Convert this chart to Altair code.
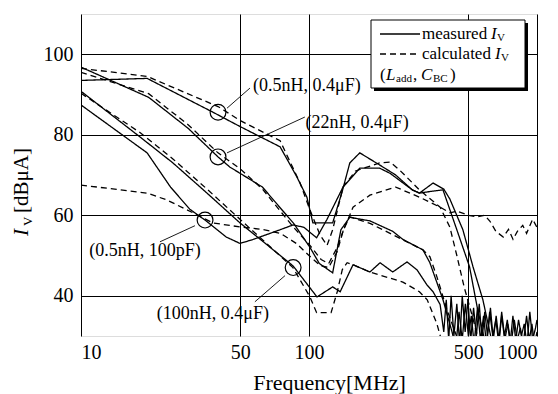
import altair as alt
import pandas as pd

FONT = "Liberation Serif, Times New Roman, DejaVu Serif, serif"

# ---- (0.5nH, 0.4uF) ----
a_meas_f = [10, 19.5, 37.9, 50, 74.7, 88.5, 97.9, 104, 115, 127, 140, 151, 167, 204, 240, 284, 305, 350, 390, 415, 473, 524, 579, 622, 650]
a_meas_db = [93.5, 94, 85.6, 82, 77, 69.5, 64.5, 58.1, 58.1, 58.1, 66, 73, 75.5, 72.5, 70, 66.3, 65.5, 68, 66.5, 64, 56.4, 47.2, 39, 30.8, 26]
a_calc_f = [10, 19.5, 39.9, 50, 74.7, 91.4, 101, 112, 120, 127, 141, 160, 204, 227, 250, 305, 376, 415, 445, 480, 520, 560]
a_calc_db = [96.5, 94.5, 87, 83.5, 78.5, 68, 61.3, 55, 52.5, 56.4, 67, 71, 73, 73.2, 71.2, 66.3, 62, 57, 50, 42, 35, 28]

# ---- (22nH, 0.4uF) ----
b_meas_f = [10, 19.8, 29.5, 39.9, 44.9, 62.5, 76.2, 85.6, 101, 111, 127, 138, 151, 185, 233, 258, 316, 339, 387, 425,
            440, 455, 470, 485, 500, 515, 530, 548, 565, 583, 600, 620, 640, 660, 680, 700, 722, 745, 770, 795, 820, 845, 870, 900, 925, 950, 975, 1000]
b_meas_db = [96.8, 89.3, 81.6, 74.5, 72, 67, 61.3, 58, 52, 48, 45.7, 56.4, 59.5, 58.6, 56, 54, 51.4, 48.2, 39, 30.8,
             27, 36, 29, 38, 30, 35, 28, 37, 29, 35, 28, 36, 30, 34, 28, 35, 29, 33, 28, 34, 29, 32, 28, 35, 29, 33, 28, 31]
b_calc_f = [10, 19.8, 29.5, 39.9, 50, 62.5, 76.2, 85.6, 101, 113, 122, 133, 143, 151, 185, 258, 316, 339, 364, 403, 445, 470]
b_calc_db = [95.5, 90.2, 82.5, 75.5, 71.5, 66.5, 60.5, 57, 52.5, 49, 48, 52, 57, 59.6, 58, 53.9, 51.4, 49.7, 44.7, 36.5, 29.8, 26]

# ---- (0.5nH, 100pF) ----
c_meas_f = [10, 19.5, 24.7, 30, 35, 43.3, 49.8, 56.3, 74.7, 85.2, 95, 108, 120, 141, 167, 204, 227, 284, 305, 350, 387, 445, 506, 546, 579, 610]
c_meas_db = [87.4, 75.5, 67, 61.5, 58.8, 54.6, 53, 53.9, 56.4, 57.6, 57, 54.4, 59, 67, 71.7, 71.7, 70.4, 66.3, 65.5, 66, 66.3, 56.4, 47.2, 37.3, 30.8, 26]
c_calc_f = [10, 19.5, 23.8, 31, 37.9, 49.8, 62, 75, 88, 100, 112, 122, 133, 141, 156, 185, 240, 305, 376, 415, 445, 500, 546, 590, 622, 660, 711, 750, 785, 820, 866, 900, 957, 1000]
c_calc_db = [67.5, 65.5, 63.8, 60.6, 58.1, 57.1, 56.5, 55.5, 53, 50, 47.5, 47, 51, 56, 62, 65, 67, 64.5, 62, 60.6, 61, 60, 59.6, 60, 58.5, 56, 54.6, 56.5, 54, 56, 57.5, 55.5, 59, 57]

# ---- (100nH, 0.4uF) ----
d_meas_f = [10, 18.2, 25.3, 35.7, 49.8, 85.2, 108.4, 127, 137, 156, 185, 205, 233, 269, 298, 329, 350, 376,
            390, 400, 410, 420, 432, 445, 458, 470, 484, 498, 512, 527, 542, 558, 574, 590, 607, 625, 643, 662, 681, 700, 720, 741, 762, 784, 807, 830, 854, 879, 904, 930, 957, 985, 1000]
d_meas_db = [90.8, 79.4, 73, 65.5, 58.1, 47.4, 39.7, 42.2, 41, 47.7, 45.9, 48.2, 45.9, 48.4, 46.4, 42.7, 41, 37.8,
             31, 39, 29, 40, 30, 38, 28, 40, 31, 39, 29, 37, 30, 38, 29, 36, 30, 37, 29, 35, 29, 36, 30, 34, 28, 35, 29, 34, 30, 33, 28, 36, 29, 32, 34]
d_calc_f = [10, 18.2, 25.3, 35.7, 49.8, 85, 101, 108, 125, 133, 140, 147, 156, 185, 258, 305, 330, 364, 385]
d_calc_db = [90.3, 80.5, 74, 66.5, 59, 47, 39.7, 35.8, 35.8, 41, 46.5, 48.2, 47.7, 45.9, 43.4, 41, 39, 33, 28]

# annotation labels
ann_text = ["(0.5nH, 0.4\u03bcF)", "(22nH, 0.4\u03bcF)", "(0.5nH, 100pF)", "(100nH, 0.4\u03bcF)"]
ann_circle_f = [39.9, 39.9, 35.0, 85.2]
ann_circle_db = [85.6, 74.5, 58.8, 47.0]

rows = []
for name, kind, fs, ds in [
    ("A", "measured", a_meas_f, a_meas_db), ("A", "calculated", a_calc_f, a_calc_db),
    ("B", "measured", b_meas_f, b_meas_db), ("B", "calculated", b_calc_f, b_calc_db),
    ("C", "measured", c_meas_f, c_meas_db), ("C", "calculated", c_calc_f, c_calc_db),
    ("D", "measured", d_meas_f, d_meas_db), ("D", "calculated", d_calc_f, d_calc_db),
]:
    for i, (f, d) in enumerate(zip(fs, ds)):
        rows.append({"curve": name + kind, "kind": kind, "f": f, "db": d, "i": i})
df = pd.DataFrame(rows)

xscale = alt.Scale(type="log", domain=[10, 1000], nice=False)
yscale = alt.Scale(domain=[30, 110], nice=False, zero=False)

xax = alt.Axis(values=[10, 50, 100, 500, 1000], format="d", grid=True, gridColor="black", gridWidth=1,
               gridOpacity=1, ticks=False, domain=False, labelFont=FONT, labelFontSize=20, labelColor="black",
               labelPadding=6, title="Frequency[MHz]", titleFont=FONT, titleFontSize=22, titleFontWeight="normal",
               titleColor="black", titleX=248, titleY=46, titleBaseline="middle")
yax = alt.Axis(values=[40, 60, 80, 100], grid=True, gridColor="black", gridWidth=1, gridOpacity=1, ticks=False,
               domain=False, labelFont=FONT, labelFontSize=20, labelColor="black", labelPadding=8, title=None)

lines = alt.Chart(df).mark_line(color="black", strokeWidth=1.3, clip=True).encode(
    x=alt.X("f:Q", scale=xscale, axis=xax),
    y=alt.Y("db:Q", scale=yscale, axis=yax),
    detail="curve:N",
    order="i:Q",
    strokeDash=alt.StrokeDash("kind:N", scale=alt.Scale(domain=["measured", "calculated"], range=[[1, 0], [6, 4]]), legend=None),
)

circ_df = pd.DataFrame({"f": ann_circle_f, "db": ann_circle_db})
circles = alt.Chart(circ_df).mark_point(shape="circle", size=250, filled=False, color="black", strokeWidth=1.2, opacity=1).encode(
    x=alt.X("f:Q", scale=xscale), y=alt.Y("db:Q", scale=yscale))

lead_df = pd.DataFrame({
    "f1": [43.7, 43.7, 31.6, 78.5],
    "d1": [86.6, 75.5, 57.4, 45.0],
    "f2": [55.1, 95.9, 22.2, 57.9],
    "d2": [91.6, 84.4, 53.4, 38.5],
})
leaders = alt.Chart(lead_df).mark_rule(color="black", strokeWidth=0.9).encode(
    x=alt.X("f1:Q", scale=xscale), y=alt.Y("d1:Q", scale=yscale), x2="f2:Q", y2="d2:Q")

lab_df = pd.DataFrame({
    "t": ann_text,
    "f": [56.8, 96.5, 19.1, 37.9],
    "db": [92.1, 82.9, 51.2, 35.5],
    "al": ["left", "left", "center", "center"],
})
labels_l = alt.Chart(lab_df[lab_df.al == "left"]).mark_text(font=FONT, fontSize=18, align="left", baseline="middle", color="black").encode(
    x=alt.X("f:Q", scale=xscale), y=alt.Y("db:Q", scale=yscale), text="t:N")
labels_c = alt.Chart(lab_df[lab_df.al == "center"]).mark_text(font=FONT, fontSize=18, align="center", baseline="middle", color="black").encode(
    x=alt.X("f:Q", scale=xscale), y=alt.Y("db:Q", scale=yscale), text="t:N")

one = alt.Data(values=[{"a": 1}])

def txt(s, x, y, size=17, style="normal", align="left", angle=0):
    kw = dict(font=FONT, fontSize=size, fontStyle=style, align=align, baseline="middle", color="black")
    if angle:
        kw["angle"] = angle
    return alt.Chart(one).mark_text(**kw).encode(x=alt.value(x), y=alt.value(y), text=alt.value(s))

# legend box (pixel positions within the plot area, origin at plot top-left)
LX0, LY0, LX1, LY1 = 290, 6, 444, 74
shadow = alt.Chart(one).mark_rect(color="black").encode(
    x=alt.value(LX0 + 3), x2=alt.value(LX1 + 3), y=alt.value(LY0 + 3), y2=alt.value(LY1 + 3))
box = alt.Chart(one).mark_rect(fill="white", stroke="black", strokeWidth=1).encode(
    x=alt.value(LX0), x2=alt.value(LX1), y=alt.value(LY0), y2=alt.value(LY1))
leg_solid = alt.Chart(one).mark_rule(color="black", strokeWidth=1.6).encode(
    x=alt.value(299), x2=alt.value(339), y=alt.value(20))
leg_dash = alt.Chart(one).mark_rule(color="black", strokeWidth=1.4, strokeDash=[6, 4]).encode(
    x=alt.value(299), x2=alt.value(339), y=alt.value(40))

legend_texts = [
    txt("measured", 341, 20), txt("I", 410, 20, style="italic"), txt("V", 416, 24, size=11),
    txt("calculated", 341, 40), txt("I", 414, 40, style="italic"), txt("V", 420, 44, size=11),
    txt("(", 299, 61), txt("L", 305, 61, style="italic"), txt("add", 315, 65, size=11), txt(",", 332, 61),
    txt("C", 340, 61, style="italic"), txt("BC", 352, 65, size=11), txt(")", 369, 61),
]

# y axis title composed of pieces, rotated
ytitle = [
    txt("I", -59, 222, size=21, style="italic", angle=270),
    txt("V", -53, 212, size=13, angle=270),
    txt("[dB\u03bcA]", -59, 199, size=21, angle=270),
]

chart = alt.layer(
    lines, circles, leaders, labels_l, labels_c,
    shadow, box, leg_solid, leg_dash, *legend_texts, *ytitle
).properties(
    width=456, height=322,
    autosize=alt.AutoSizeParams(type="none"),
    padding={"left": 81, "top": 14, "right": 21, "bottom": 58},
).configure_view(stroke="black", strokeWidth=1.2).configure(background="white")

chart.save("out.html", embed_options={"renderer": "svg", "actions": False})
